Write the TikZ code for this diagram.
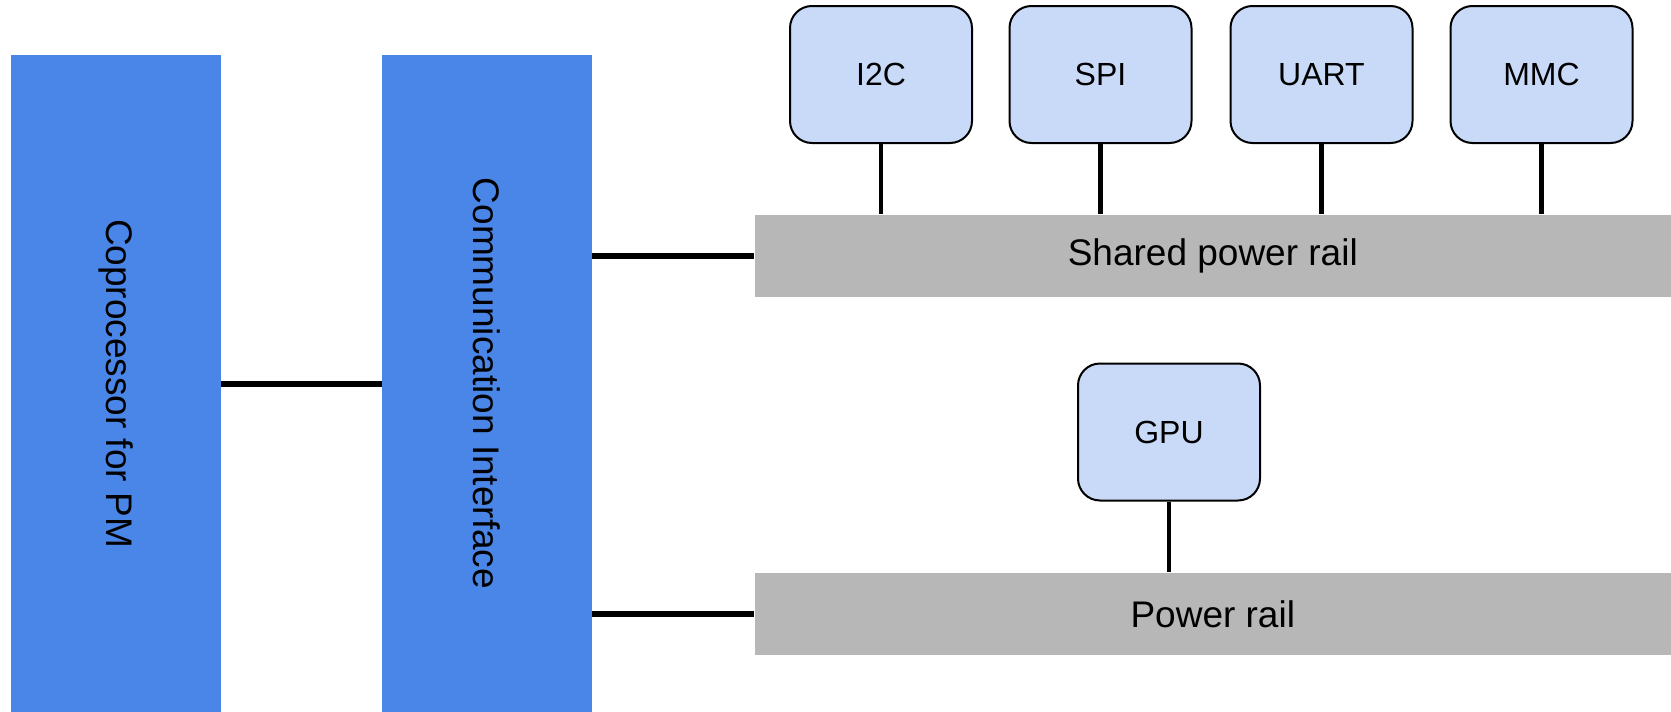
\documentclass[tikz,border=0pt]{standalone}
\usepackage{fontspec}
\setmainfont{Liberation Sans}
\usepackage{tikz}

\definecolor{coreblue}{HTML}{4A86E8}
\definecolor{unitblue}{HTML}{C9DAF8}
\definecolor{railgray}{HTML}{B7B7B7}

\begin{document}
\begin{tikzpicture}[x=0.5pt, y=-0.5pt,
		core/.style={fill=coreblue, rotate=-90, minimum width=328.5pt, minimum height=105pt, inner sep=0pt, font=\fontsize{18.5}{20}\selectfont},
		rail/.style={fill=railgray, minimum width=458.25pt, minimum height=41.25pt, inner sep=0pt, font=\fontsize{18.5}{20}\selectfont},
		unit/.style={draw, line width=1pt, fill=unitblue, rounded corners=11pt, minimum width=91pt, minimum height=68.5pt, inner sep=0pt, font=\fontsize{16}{18}\selectfont},
		bus/.style={line width=3pt},
		tap/.style={line width=2.2pt}]
		\useasboundingbox (0, 0) rectangle (1671, 712);

		% processors on the left
		\node[core] (coproc) at (115.6, 383.5) {Coprocessor for PM};
		\node[core] (comm) at (487, 383.5) {Communication Interface};

		% the two rails
		\node[rail] (shared) at (1212.8, 256) {Shared power rail};
		\node[rail] (power) at (1212.8, 614) {Power rail};

		% peripherals
		\node[unit] (i2c) at (881, 74.5) {I2C};
		\node[unit] (spi) at (1100.5, 74.5) {SPI};
		\node[unit] (uart) at (1321.5, 74.5) {UART};
		\node[unit] (mmc) at (1541.5, 74.5) {MMC};
		\node[unit] (gpu) at (1169, 432) {GPU};

		\draw[bus] (coproc) -- (comm);
		\draw[bus] (comm.north |- shared.west) -- (shared.west);
		\draw[bus] (comm.north |- power.west) -- (power.west);

		\foreach \u in {i2c, spi, uart, mmc}
			\draw[tap] (\u.south) -- (\u.south |- shared.north);
		\draw[tap] (gpu.south) -- (gpu.south |- power.north);
	\end{tikzpicture}
\end{document}
